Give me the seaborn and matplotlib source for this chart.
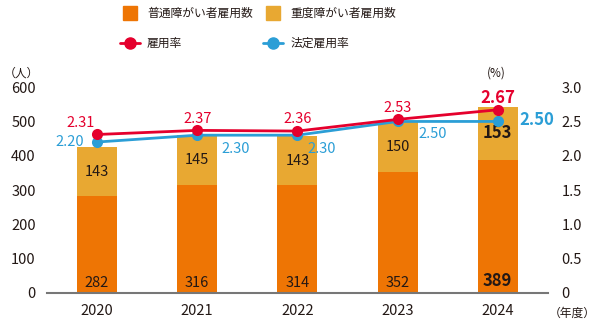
import matplotlib
matplotlib.use("Agg")
import matplotlib.pyplot as plt
from matplotlib.lines import Line2D
import seaborn as sns
import pandas as pd
import numpy as np

years = ["2020", "2021", "2022", "2023", "2024"]
general = [282, 316, 314, 352, 389]
severe = [143, 145, 143, 150, 153]
rate = [2.31, 2.37, 2.36, 2.53, 2.67]
legal_rate = [2.20, 2.30, 2.30, 2.50, 2.50]
rate_labels = ["2.31", "2.37", "2.36", "2.53", "2.67"]
legal_labels = ["2.20", "2.30", "2.30", "2.50", "2.50"]
series_names = ["普通障がい者雇用数", "重度障がい者雇用数", "雇用率", "法定雇用率"]

sns.set_theme(style="white")
plt.rcParams["font.family"] = ["Noto Sans CJK JP", "DejaVu Sans"]

C_GEN = "#EE7504"
C_SEV = "#E8A832"
C_RATE = "#E5002D"
C_LEGAL = "#2B9ED6"
TXT = "#231815"

fig = plt.figure(figsize=(6.02, 3.32), dpi=100)
ax = fig.add_axes([0.078, 0.1175, 0.832, 0.62])

df = pd.DataFrame({"year": years, "general": general, "severe": severe})
sns.barplot(data=df, x="year", y="general", color=C_GEN, width=0.4, ax=ax,
            saturation=1, linewidth=0)
sns.barplot(data=df, x="year", y="severe", bottom=df["general"], color=C_SEV,
            width=0.4, ax=ax, saturation=1, linewidth=0)

ax.set_xlim(-0.5, 4.5)
ax.set_ylim(0, 600)
ax.set_yticks(range(0, 601, 100))
ax.set_xlabel("")
ax.set_ylabel("")
for s in ["top", "right", "left"]:
    ax.spines[s].set_visible(False)
ax.spines["bottom"].set_color("#777777")
ax.spines["bottom"].set_linewidth(1.5)
ax.tick_params(axis="both", length=0, labelsize=10.5, colors=TXT, pad=8)
ax.tick_params(axis="x", pad=8)

for i in range(5):
    last = i == 4
    fs = 12 if last else 10.5
    fw = "bold" if last else "normal"
    ax.text(i, 10, str(general[i]), ha="center", va="bottom", fontsize=fs,
            fontweight=fw, color=TXT)
    ax.text(i, general[i] + severe[i] / 2, str(severe[i]), ha="center",
            va="center", fontsize=fs, fontweight=fw, color=TXT)

ax2 = ax.twinx()
xs = np.arange(5)
lf = pd.DataFrame({"x": xs, "rate": rate, "legal": legal_rate})
sns.lineplot(data=lf, x="x", y="legal", color=C_LEGAL, marker="o",
             markersize=8, markeredgewidth=0, linewidth=2, ax=ax2)
sns.lineplot(data=lf, x="x", y="rate", color=C_RATE, marker="o",
             markersize=8, markeredgewidth=0, linewidth=2, ax=ax2)
ax2.set_ylim(0, 3.0)
ax2.set_yticks(np.arange(0, 3.01, 0.5))
ax2.set_yticklabels(["0", "0.5", "1.0", "1.5", "2.0", "2.5", "3.0"])
ax2.set_xlabel("")
ax2.set_ylabel("")
for s in ["top", "right", "left", "bottom"]:
    ax2.spines[s].set_visible(False)
ax2.tick_params(axis="y", length=0, labelsize=10.5, colors=TXT, pad=10)

# rate labels
rate_off = [(-0.16, 0.17), (0, 0.17), (0, 0.17), (0, 0.17), (0, 0.17)]
for i in range(5):
    last = i == 4
    dx, dy = rate_off[i]
    ax2.text(i + dx, rate[i] + dy, rate_labels[i], ha="center", va="center",
             fontsize=12 if last else 10.5, fontweight="bold" if last else "normal",
             color=C_RATE)
legal_off = [(-0.27, 0.0), (0.38, -0.20), (0.24, -0.20), (0.35, -0.18), (0.39, 0.02)]
for i in range(5):
    last = i == 4
    dx, dy = legal_off[i]
    ax2.text(i + dx, legal_rate[i] + dy, legal_labels[i], ha="center", va="center",
             fontsize=12 if last else 10.5, fontweight="bold" if last else "normal",
             color=C_LEGAL)

# unit labels
fig.text(0.035, 0.78, "（人）", ha="center", va="center", fontsize=8.5, color=TXT)
fig.text(0.825, 0.78, "(%)", ha="center", va="center", fontsize=8.5, color=TXT)
fig.text(0.95, 0.055, "（年度）", ha="center", va="center", fontsize=8.5, color=TXT)

leg_kw = dict(loc="upper left", frameon=False, fontsize=8.5, handlelength=1.7,
              handletextpad=0.6, labelspacing=1.45, borderpad=0,
              borderaxespad=0, labelcolor=TXT)
h1 = [Line2D([], [], marker="s", linestyle="none", color=C_GEN, markersize=10),
      Line2D([], [], color=C_RATE, marker="o", markersize=8, linewidth=2)]
h2 = [Line2D([], [], marker="s", linestyle="none", color=C_SEV, markersize=10),
      Line2D([], [], color=C_LEGAL, marker="o", markersize=8, linewidth=2)]
fig.legend(h1, [series_names[0], series_names[2]], bbox_to_anchor=(0.199, 0.98), **leg_kw)
fig.legend(h2, [series_names[1], series_names[3]], bbox_to_anchor=(0.437, 0.98), **leg_kw)

fig.savefig("out.png", dpi=100)
